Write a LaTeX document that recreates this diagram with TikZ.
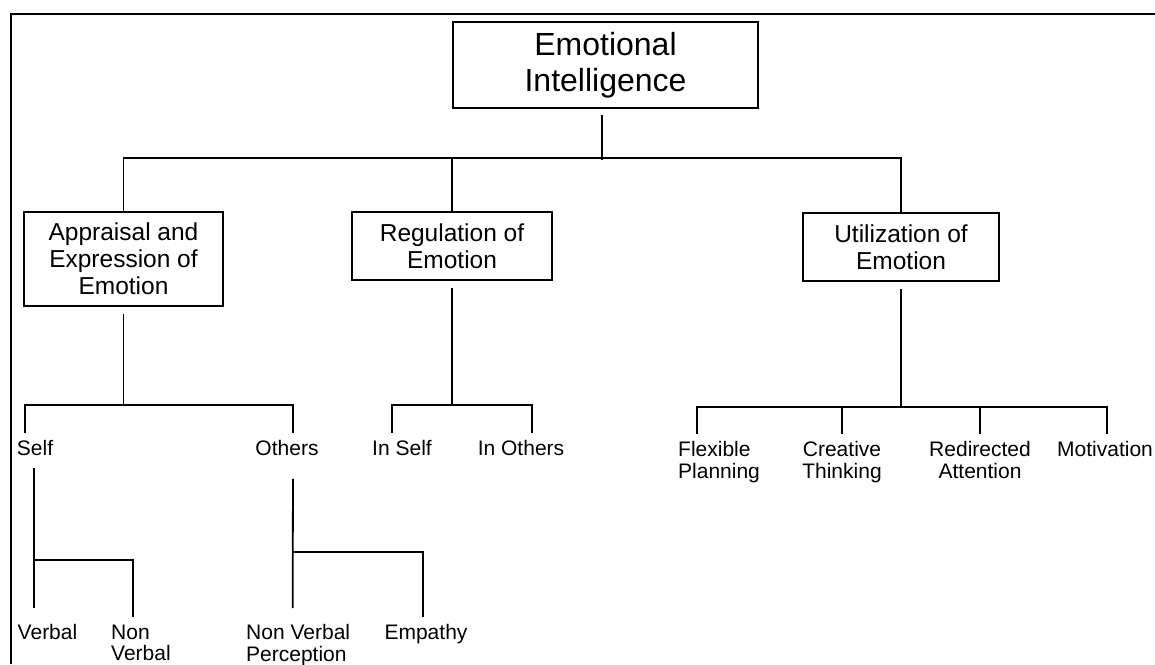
\documentclass[tikz,border=0pt]{standalone}
\usepackage{fontspec}
\setmainfont{Liberation Sans}
\usepackage{tikz}

\begin{document}
\begin{tikzpicture}[
  x=1pt, y=-1pt,
  bigbox/.style={draw, line width=1.8pt, align=center, inner sep=0pt,
    minimum width=305pt, minimum height=86pt, font=\fontsize{32}{36}\selectfont},
  midbox/.style={draw, line width=1.8pt, align=center, inner sep=0pt,
    minimum height=68pt, font=\fontsize{24.5}{27}\selectfont},
  leaf/.style={inner xsep=0pt, inner ysep=7.5pt, font=\fontsize{21}{21.5}\selectfont},
  link/.style={line width=1.8pt}
]
  \useasboundingbox (0,0) rectangle (1155,664);
  % 外框
  \draw[line width=2pt] (11,664) -- (11,14) -- (1155,14);

  % 顶层和三个分支
  \node[bigbox] (ei) at (605.5,65) {Emotional\\Intelligence};
  \node[midbox, minimum width=199pt, minimum height=94pt] (app) at (123.5,259) {Appraisal and\\Expression of\\Emotion};
  \node[midbox, minimum width=200pt] (reg) at (452,246) {Regulation of\\Emotion};
  \node[midbox, minimum width=196pt] (util) at (901,247) {Utilization of\\Emotion};

  \draw[link, shorten <=6pt] ([xshift=-3.5pt]ei.south) -- ++(0,51);
  \draw[link] (app.north) -- ++(0,-53) -| (util.north);
  \draw[link] (reg.north) -- ++(0,-53);

  % 下层叶子
  \node[leaf, anchor=north] (self) at (35,433) {Self};
  \node[leaf, anchor=north] (others) at (287,433) {Others};
  \node[leaf, anchor=north] (verbal) at (47.5,617) {Verbal};
  \node[leaf, anchor=north west, align=left] (nonverbal) at (111,617) {Non\\Verbal};
  \node[leaf, anchor=north west, align=left] (nvperc) at (246,617) {Non Verbal\\Perception};
  \node[leaf, anchor=north] (empathy) at (426,617) {Empathy};
  \node[leaf, anchor=north] (inself) at (402,433) {In Self};
  \node[leaf, anchor=north] (inothers) at (521,433) {In Others};
  \node[leaf, anchor=north west, align=left] (flex) at (678,434) {Flexible\\Planning};
  \node[leaf, anchor=north, align=center] (creat) at (842,434) {Creative\\Thinking};
  \node[leaf, anchor=north, align=center] (redir) at (980,434) {Redirected\\Attention};
  \node[leaf, anchor=north] (motiv) at (1105,434) {Motivation};

  % 评估与表达
  \draw[link, shorten <=7pt] (app.south) -- ++(0,98) coordinate (abus);
  \draw[link] ([xshift=-10pt]self.north) |- (abus) -| ([xshift=6pt]others.north);
  \draw[link, shorten <=4pt, shorten >=9pt] ([xshift=-1pt]self.south) -- ([xshift=-13.5pt]verbal.north);
  \coordinate (sbr) at (34,560);
  \draw[link] (sbr) -| ([xshift=-8pt]nonverbal.north);
  \draw[link, shorten <=15pt, shorten >=9pt] ([xshift=6pt]others.south) -- ([xshift=-5.5pt]nvperc.north);
  \coordinate (obr) at (293,552);
  \draw[link] (obr) -| ([xshift=-3pt]empathy.north);

  % 调节
  \draw[link, shorten <=7pt] (reg.south) -- ++(0,124) coordinate (rbus);
  \draw[link] ([xshift=-10pt]inself.north) |- (rbus) -| ([xshift=11pt]inothers.north);

  % 利用
  \draw[link, shorten <=7pt] (util.south) -- ++(0,125) coordinate (ubus);
  \draw[link] ([xshift=-22pt]flex.north) |- (ubus) -| ([xshift=2pt]motiv.north);
  \draw[link] (creat.north) -- (creat.north |- ubus);
  \draw[link] (redir.north) -- (redir.north |- ubus);
\end{tikzpicture}
\end{document}
